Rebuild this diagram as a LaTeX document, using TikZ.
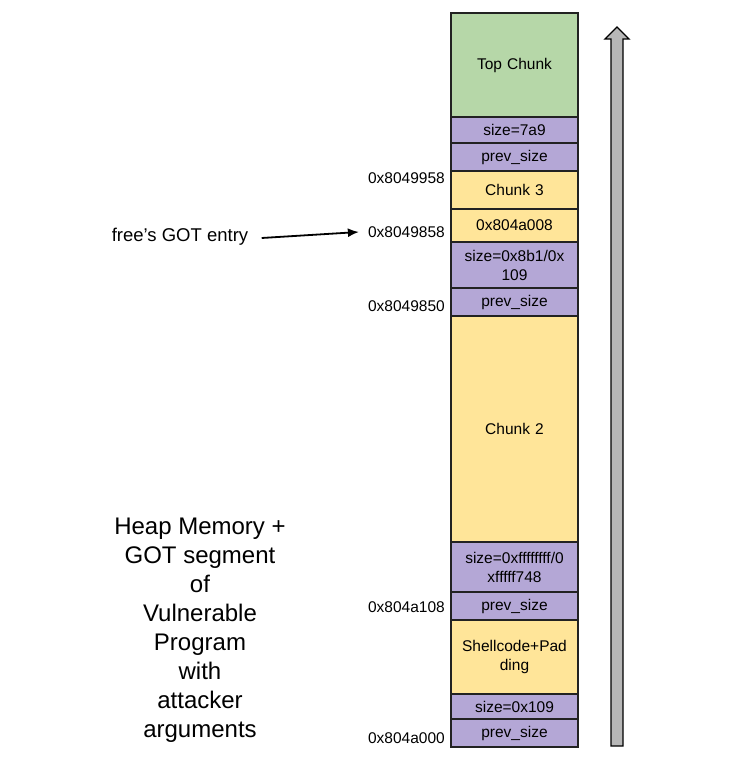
\documentclass[tikz,border=0pt]{standalone}
\usepackage{fontspec}
\setmainfont{Liberation Sans}
\usetikzlibrary{arrows.meta}
\definecolor{topgreen}{HTML}{B6D7A8}
\definecolor{hdrpurple}{HTML}{B4A7D6}
\definecolor{datayellow}{HTML}{FFE599}
\definecolor{arrowgray}{HTML}{B7B7B7}
\definecolor{edge}{HTML}{222222}
\tikzset{
  blk/.style={draw=edge, line width=1.3pt, minimum width=127pt, inner sep=0pt,
    text width=125pt, align=center, font=\fontsize{15.5}{19}\selectfont},
  hdr/.style={blk, fill=hdrpurple},
  dat/.style={blk, fill=datayellow},
  addr/.style={anchor=east, inner sep=0pt, font=\fontsize{15.5}{18}\selectfont},
}
\begin{document}
\begin{tikzpicture}[x=1pt,y=-1pt]
  \useasboundingbox (0,0) rectangle (737,765);
  % heap column
  \node[blk, fill=topgreen, minimum height=104pt] (top) at (514.5,65) {Top Chunk};
  \node[hdr, minimum height=26pt] (size7a9) at (514.5,130) {size=7a9};
  \node[hdr, minimum height=28pt] (prev3) at (514.5,157) {prev\_size};
  \node[dat, minimum height=38pt] (chunk3) at (514.5,190) {Chunk 3};
  \node[dat, minimum height=33pt] (fd) at (514.5,225.5) {0x804a008};
  \node[hdr, minimum height=46pt] (size8b1) at (514.5,265) {size=0x8b1/0x\\109};
  \node[hdr, minimum height=28pt] (prev2) at (514.5,302) {prev\_size};
  \node[dat, minimum height=226pt] (chunk2) at (514.5,429) {Chunk 2};
  \node[hdr, minimum height=50pt] (sizeff) at (514.5,567) {size=0xffffffff/0\\xfffff748};
  \node[hdr, minimum height=28pt] (prev1b) at (514.5,606) {prev\_size};
  \node[dat, minimum height=74pt] (shell) at (514.5,657) {Shellcode+Pad\\ding};
  \node[hdr, minimum height=25pt] (size109) at (514.5,706.5) {size=0x109};
  \node[hdr, minimum height=28pt] (prev1) at (514.5,733) {prev\_size};
  % addresses
  \node[addr] (a958) at (445,178) {0x8049958};
  \node[addr] (a858) at (445,232) {0x8049858};
  \node[addr] (a850) at (445,306) {0x8049850};
  \node[addr] (a108) at (445,607) {0x804a108};
  \node[addr] (a000) at (445,738) {0x804a000};
  % GOT pointer
  \node[font=\fontsize{18.5}{22}\selectfont] (got) at (180,237) {free’s GOT entry};
  \draw[-{Latex[length=11pt,width=9pt]}, line width=1.8pt]
    ([xshift=10pt,yshift=-1pt]got.east) -- ([xshift=-9pt]a858.west);
  % growth arrow
  \draw[fill=arrowgray, draw=black, line width=1.3pt]
    (611,746) -- (611,39) -- (605,39) -- (617,27) -- (629,39) -- (623,39) -- (623,746) -- cycle;
  % caption
  \node[align=center, font=\fontsize{24}{29}\selectfont] (caption) at (200,630)
    {Heap Memory +\\GOT segment\\of\\Vulnerable\\Program\\with\\attacker\\arguments};
\end{tikzpicture}
\end{document}
